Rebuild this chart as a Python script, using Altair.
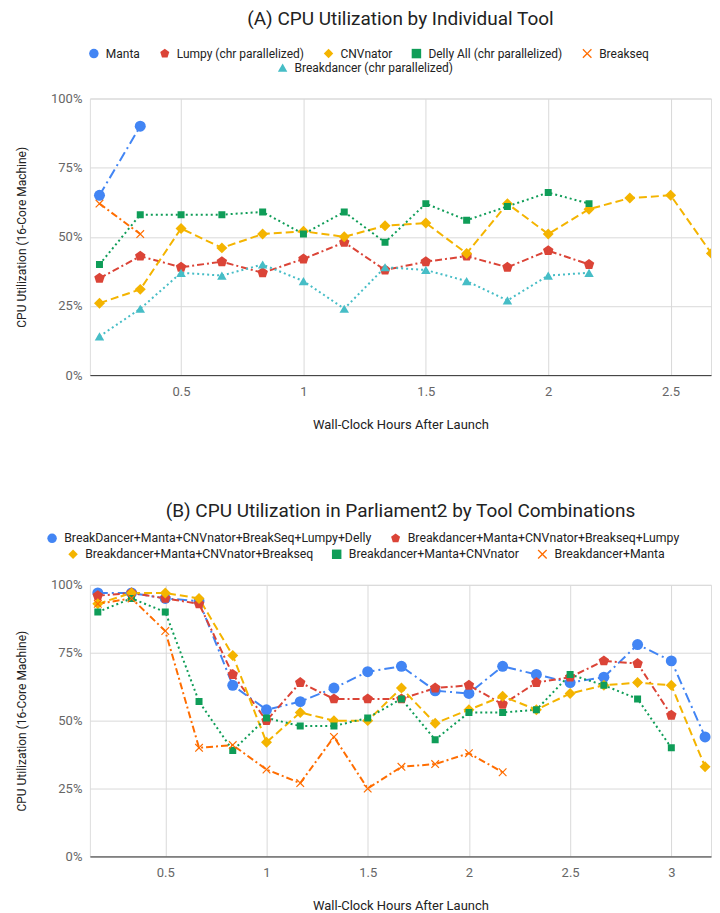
import altair as alt
import pandas as pd

# ---------------- data ----------------
HOURS = [0.1667, 0.3333, 0.5, 0.6667, 0.8333, 1.0, 1.1667, 1.3333, 1.5, 1.6667,
         1.8333, 2.0, 2.1667, 2.3333, 2.5, 2.6667, 2.8333, 3.0, 3.1667]

A_NAMES = ["Manta", "Lumpy (chr parallelized)", "CNVnator",
           "Delly All (chr parallelized)", "Breakseq", "Breakdancer (chr parallelized)"]
A_MANTA = [65, 90]
A_LUMPY = [35, 43, 39, 41, 37, 42, 48, 38, 41, 43, 39, 45, 40]
A_CNVNATOR = [26, 31, 53, 46, 51, 52, 50, 54, 55, 44, 62, 51, 60, 64, 65, 44]
A_DELLY = [40, 58, 58, 58, 59, 51, 59, 48, 62, 56, 61, 66, 62]
A_BREAKSEQ = [62, 51]
A_BREAKDANCER = [14, 24, 37, 36, 40, 34, 24, 39, 38, 34, 27, 36, 37]
A_VALUES = [A_MANTA, A_LUMPY, A_CNVNATOR, A_DELLY, A_BREAKSEQ, A_BREAKDANCER]

B_NAMES = ["BreakDancer+Manta+CNVnator+BreakSeq+Lumpy+Delly",
           "Breakdancer+Manta+CNVnator+Breakseq+Lumpy",
           "Breakdancer+Manta+CNVnator+Breakseq",
           "Breakdancer+Manta+CNVnator",
           "Breakdancer+Manta"]
B_SIX = [97, 97, 95, 94, 63, 54, 57, 62, 68, 70, 61, 60, 70, 67, 64, 66, 78, 72, 44]
B_FIVE = [96, 97, 95, 93, 67, 50, 64, 58, 58, 58, 62, 63, 56, 64, 66, 72, 71, 52]
B_FOUR = [93, 97, 97, 95, 74, 42, 53, 50, 50, 62, 49, 54, 59, 54, 60, 63, 64, 63, 33]
B_THREE = [90, 95, 90, 57, 39, 51, 48, 48, 51, 58, 43, 53, 53, 54, 67, 63, 58, 40]
B_TWO = [93, 95, 83, 40, 41, 32, 27, 44, 25, 33, 34, 38, 31]
B_VALUES = [B_SIX, B_FIVE, B_FOUR, B_THREE, B_TWO]

X_TICKS_A = [0.5, 1, 1.5, 2, 2.5]
X_TICKS_B = [0.5, 1, 1.5, 2, 2.5, 3]
Y_TICKS = [0, 25, 50, 75, 100]

# ---------------- styles ----------------
BLUE, RED, YELLOW, GREEN, ORANGE, TEAL = "#4285F4", "#DB4437", "#F4B400", "#0F9D58", "#FF6D00", "#46BDC6"
PENTAGON = "M0,-1L0.951,-0.309L0.588,0.809L-0.588,0.809L-0.951,-0.309Z"
XMARK = "M-1,-0.8L-0.8,-1L0,-0.2L0.8,-1L1,-0.8L0.2,0L1,0.8L0.8,1L0,0.2L-0.8,1L-1,0.8L-0.2,0Z"
DASHDOT = [10, 4, 2, 4]
DASHDOT2 = [7, 3, 2, 3]
DASH = [8, 4]
DOT = [2, 3]

A_STYLE = dict(colors=[BLUE, RED, YELLOW, GREEN, ORANGE, TEAL],
               shapes=["circle", PENTAGON, "diamond", "square", XMARK, "triangle-up"],
               sizes=[121, 121, 121, 49, 72, 90],
               dashes=[DASHDOT, DASHDOT2, DASH, DOT, DASHDOT2, DOT])
B_STYLE = dict(colors=[BLUE, RED, YELLOW, GREEN, ORANGE],
               shapes=["circle", PENTAGON, "diamond", "square", XMARK],
               sizes=[121, 121, 121, 56, 72],
               dashes=[DASHDOT, DASHDOT2, DASH, DOT, DASHDOT2])

FONT = "Roboto"
PLOT_W = 622


def to_frame(names, values):
    rows = []
    for name, vals in zip(names, values):
        for i, v in enumerate(vals):
            rows.append({"series": name, "hours": HOURS[i], "pct": v})
    return pd.DataFrame(rows)


def legend(values, lx, ly, fs, cp):
    return alt.Legend(values=values, orient="none", legendX=lx, legendY=ly,
                      direction="horizontal", columns=len(values), title=None,
                      labelFont=FONT, labelFontSize=fs, labelColor="#222",
                      labelLimit=0, symbolSize=90, symbolStrokeWidth=0,
                      columnPadding=cp, labelOffset=6, padding=0)


def panel(names, values, style, row1, row2, leg1, leg2, xdom, xticks, height, title, toff):
    df = to_frame(names, values)
    x = alt.X("hours:Q", scale=alt.Scale(domain=xdom, nice=False, zero=False),
              axis=alt.Axis(values=xticks, format="~g", title="Wall-Clock Hours After Launch",
                            grid=True, ticks=False, domain=True, domainColor="#333",
                            gridColor="#d9d9d9", labelColor="#666", labelFontSize=13,
                            labelFont=FONT, labelPadding=10, titleFont=FONT, titleFontSize=13,
                            titleFontWeight="normal", titleColor="#222", titlePadding=20))
    y = alt.Y("pct:Q", scale=alt.Scale(domain=[0, 100], nice=False),
              axis=alt.Axis(values=Y_TICKS, labelExpr="datum.value + '%'",
                            title="CPU Utilization (16-Core Machine)", grid=True,
                            ticks=False, domain=False, gridColor="#d9d9d9",
                            labelColor="#666", labelFontSize=13, labelFont=FONT,
                            labelPadding=8, titleFont=FONT, titleFontSize=12,
                            titleFontWeight="normal", titleColor="#222", titlePadding=22))
    cscale = alt.Scale(domain=names, range=style["colors"])
    sscale = alt.Scale(domain=names, range=style["shapes"])
    zscale = alt.Scale(type="ordinal", domain=names, range=style["sizes"])
    dscale = alt.Scale(domain=names, range=style["dashes"])

    base = alt.Chart(df)
    lines = base.mark_line(strokeWidth=2, clip=True).encode(
        x=x, y=y,
        color=alt.Color("series:N", scale=cscale, legend=None),
        strokeDash=alt.StrokeDash("series:N", scale=dscale, legend=None),
        order="hours:Q")

    def pts(rowvals, leg):
        return base.transform_filter(
            alt.FieldOneOfPredicate(field="series", oneOf=rowvals)
        ).mark_point(filled=True, opacity=1, clip=True).encode(
            x=x, y=y,
            color=alt.Color("series:N", scale=cscale, legend=legend(rowvals, *leg)),
            shape=alt.Shape("series:N", scale=sscale, legend=legend(rowvals, *leg)),
            size=alt.Size("series:N", scale=zscale, legend=None))

    return alt.layer(lines, pts(row1, leg1), pts(row2, leg2)).resolve_legend(
        color="independent", shape="independent"
    ).properties(
        width=PLOT_W, height=height,
        title=alt.TitleParams(title, font=FONT, fontSize=19, fontWeight="normal",
                              color="#222", anchor="middle", offset=toff))


chart_a = panel(A_NAMES, A_VALUES, A_STYLE, A_NAMES[:5], A_NAMES[5:],
                (-2, -51, 12, 18), (187, -37, 12, 18), [0.1275, 2.665], X_TICKS_A, 277,
                "(A) CPU Utilization by Individual Tool", 19)
chart_b = panel(B_NAMES, B_VALUES, B_STYLE, B_NAMES[:2], B_NAMES[2:],
                (-44, -53, 12.3, 17), (-23, -37, 12.3, 17), [0.1275, 3.196], X_TICKS_B, 272,
                "(B) CPU Utilization in Parliament2 by Tool Combinations", 11)

chart = alt.vconcat(chart_a, chart_b, spacing=69,
                    padding={"left": 7, "top": 0, "right": 0, "bottom": 0}).configure_view(
    stroke=None).configure(font=FONT)

chart.save("out.html", embed_options={"renderer": "svg", "actions": False})
